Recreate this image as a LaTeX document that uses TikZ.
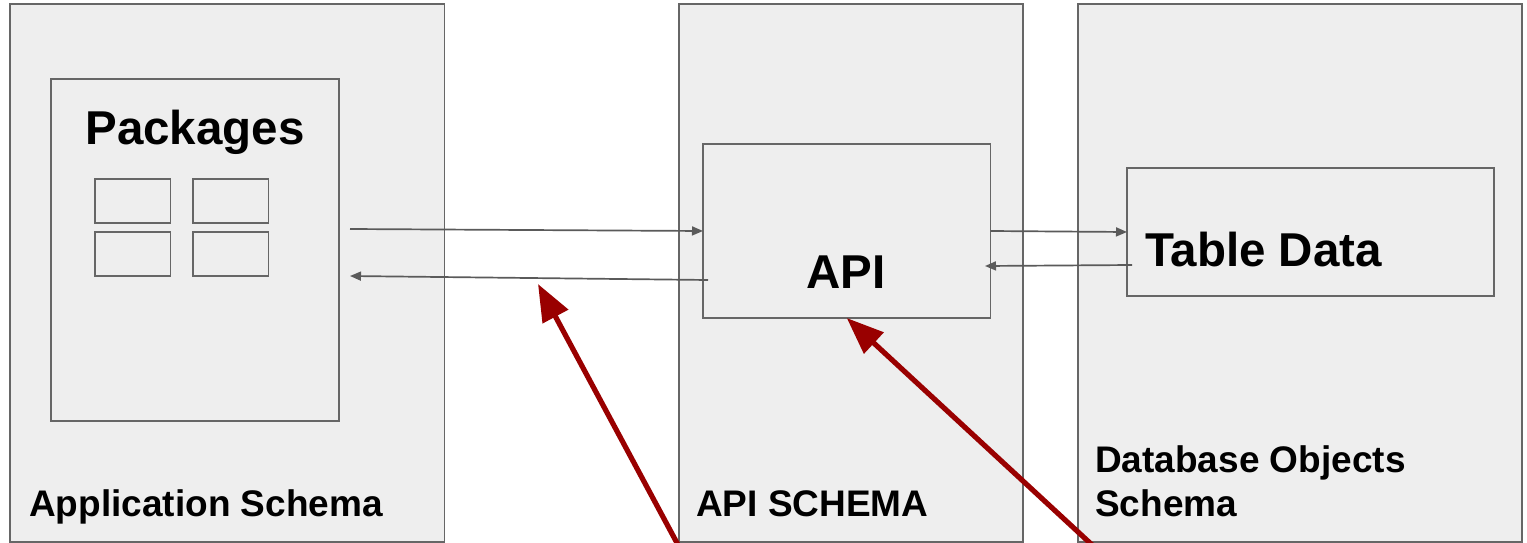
\documentclass[tikz,border=0pt]{standalone}
\usepackage{fontspec}
\setmainfont{Liberation Sans}
\usetikzlibrary{arrows.meta}
\definecolor{panelfill}{HTML}{EEEEEE}
\definecolor{panelline}{HTML}{666666}
\definecolor{linkline}{HTML}{5A5A5A}
\definecolor{callout}{HTML}{990000}
\begin{document}
\begin{tikzpicture}[x=1pt,y=-1pt,
  panel/.style={draw=panelline, fill=panelfill, line width=1.9pt, inner sep=0pt, outer sep=0pt, anchor=north west},
  link/.style={draw=linkline, line width=1.7pt, -{Triangle[length=11pt,width=9pt]}},
  pointer/.style={draw=callout, line width=5.2pt, -{Triangle[length=37pt,width=28pt]}},
  bigtext/.style={font=\bfseries\fontsize{47.5}{56}\selectfont, inner sep=0pt},
  captext/.style={font=\bfseries\fontsize{37}{44}\selectfont, inner sep=0pt, anchor=base west}]
\useasboundingbox (0,0) rectangle (1527,543);
\fill[white] (0,0) rectangle (1527,543);

% schema panels
\node[panel, minimum width=434.5pt, minimum height=538pt] (appschema) at (10,4) {};
\node[panel, minimum width=344pt, minimum height=538pt] (apischema) at (679,4) {};
\node[panel, minimum width=444pt, minimum height=538pt] (dbschema) at (1078,4) {};

% inner boxes
\node[panel, minimum width=288.6pt, minimum height=342.3pt] (pkg) at (50.7,78.7) {};
\node[panel, minimum width=75.5pt, minimum height=43.5pt] (pkga) at (95,179.3) {};
\node[panel, minimum width=75.5pt, minimum height=43.5pt] (pkgb) at (193,179.3) {};
\node[panel, minimum width=75.5pt, minimum height=43.5pt] (pkgc) at (95,232.3) {};
\node[panel, minimum width=75.5pt, minimum height=43.5pt] (pkgd) at (193,232.3) {};
\node[panel, minimum width=287.5pt, minimum height=174pt] (api) at (703,144) {};
\node[panel, minimum width=367pt, minimum height=128pt] (table) at (1127,168) {};

% texts
\node[bigtext, anchor=base] (pkgtitle) at (195,144) {Packages};
\node[bigtext, anchor=base] (apititle) at (846,288) {API};
\node[bigtext, anchor=base west] (tabletitle) at (1145,266) {Table Data};
\node[captext] (appcap) at (29,516) {Application Schema};
\node[captext] (apicap) at (696,516) {API SCHEMA};
\node[captext] (dbcap1) at (1095,472) {Database Objects};
\node[captext] (dbcap2) at (1095,516) {Schema};

% connector ends
\coordinate (pkgout) at (350,229);
\coordinate (apiret) at (708,280);
\coordinate (pkgin) at (350,276);
\coordinate (tableret) at (1132,265);
\coordinate (apiin) at (985,266);
\coordinate (retmark) at (538,284);
\coordinate (foot1) at (677,543);
\coordinate (foot2) at (1090,543);

% calls between the schemas
\draw[link] (pkgout) -- (api.west);
\draw[link] (apiret) -- (pkgin);
\draw[link] (api.east) -- (table.west);
\draw[link] (tableret) -- (apiin);

% callout arrows
\draw[pointer, shorten <=-12pt] (foot1) -- (retmark);
\draw[pointer, shorten <=-12pt] (foot2) -- (api.south);
\end{tikzpicture}
\end{document}
